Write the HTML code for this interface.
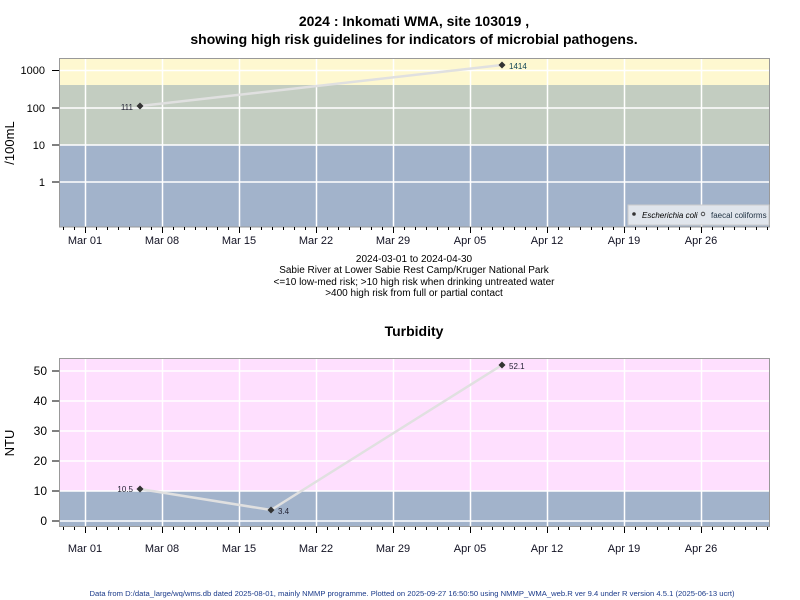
<!DOCTYPE html>
<html><head><meta charset="utf-8"><style>body{margin:0;background:#fff}svg{display:block}text{font-family:"Liberation Sans",Arial,sans-serif}</style></head>
<body>
<svg width="800" height="600" viewBox="0 0 800 600" xmlns="http://www.w3.org/2000/svg">
<defs><path id="dm" d="M0,-3.5 L3.5,0 L0,3.5 L-3.5,0 Z" fill="#333"/></defs>
<rect width="800" height="600" fill="#fff"/>
<text x="414" y="26" font-size="14" font-weight="bold" text-anchor="middle">2024 : Inkomati WMA, site 103019 ,</text>
<text x="414" y="44" font-size="14" font-weight="bold" text-anchor="middle">showing high risk guidelines for indicators of microbial pathogens.</text>
<!-- top panel -->
<rect x="60" y="59" width="709" height="26" fill="#fef8d0"/>
<rect x="60" y="85" width="709" height="60" fill="#c3cdc1"/>
<rect x="60" y="145" width="709" height="82" fill="#a2b3cb"/>
<g stroke="#fff" stroke-width="1.5">
<line x1="60" x2="769" y1="70.5" y2="70.5"/><line x1="60" x2="769" y1="108" y2="108"/><line x1="60" x2="769" y1="145" y2="145"/><line x1="60" x2="769" y1="182" y2="182"/>
<line x1="85.5" x2="85.5" y1="59" y2="227"/><line x1="162.5" x2="162.5" y1="59" y2="227"/><line x1="239.5" x2="239.5" y1="59" y2="227"/><line x1="316.5" x2="316.5" y1="59" y2="227"/><line x1="393.5" x2="393.5" y1="59" y2="227"/><line x1="470.5" x2="470.5" y1="59" y2="227"/><line x1="547.5" x2="547.5" y1="59" y2="227"/><line x1="624.5" x2="624.5" y1="59" y2="227"/><line x1="701.5" x2="701.5" y1="59" y2="227"/>
</g>
<rect x="59.5" y="58.5" width="710" height="168.5" fill="none" stroke="#999"/>
<g stroke="#000"><line x1="52" x2="59" y1="70.5" y2="70.5"/><line x1="52" x2="59" y1="108" y2="108"/><line x1="52" x2="59" y1="145" y2="145"/><line x1="52" x2="59" y1="182" y2="182"/></g>
<g font-size="11" text-anchor="end"><text x="45" y="74">1000</text><text x="45" y="112">100</text><text x="45" y="149">10</text><text x="45" y="186">1</text></g>
<text transform="translate(14,143) rotate(-90)" font-size="13" text-anchor="middle">/100mL</text>
<polyline points="140,106 502,65" fill="none" stroke="#e0e0e0" stroke-width="2.5"/>
<use href="#dm" x="140" y="106"/><use href="#dm" x="502" y="65"/>
<text x="133" y="110" font-size="8" text-anchor="end" fill="#223">111</text>
<text x="509" y="69" font-size="8" fill="#145">1414</text>
<rect x="628" y="205" width="141" height="20" fill="#e0e5ec" stroke="#ccc"/>
<circle cx="634" cy="214" r="1.8" fill="#333"/><text x="642" y="218" font-size="8" font-style="italic">Escherichia coli</text>
<circle cx="703" cy="214" r="1.8" fill="none" stroke="#333" stroke-width="0.8"/><text x="711" y="218" font-size="8" fill="#234">faecal coliforms</text>
<line x1="63" x2="768" y1="228.5" y2="228.5" stroke="#000" stroke-width="3" stroke-dasharray="1 10"/>
<line x1="85" x2="768" y1="230" y2="230" stroke="#000" stroke-width="6" stroke-dasharray="1 76"/>
<g font-size="11" text-anchor="middle" fill="#112"><text x="85" y="244">Mar 01</text><text x="162" y="244">Mar 08</text><text x="239" y="244">Mar 15</text><text x="316" y="244">Mar 22</text><text x="393" y="244">Mar 29</text><text x="470" y="244">Apr 05</text><text x="547" y="244">Apr 12</text><text x="624" y="244">Apr 19</text><text x="701" y="244">Apr 26</text></g>
<g font-size="10" text-anchor="middle"><text x="414" y="262">2024-03-01 to 2024-04-30</text><text x="414" y="273">Sabie River at Lower Sabie Rest Camp/Kruger National Park</text><text x="414" y="285">&lt;=10 low-med risk; &gt;10 high risk when drinking untreated water</text><text x="414" y="296">&gt;400 high risk from full or partial contact</text></g>
<text x="414" y="336" font-size="14" font-weight="bold" text-anchor="middle">Turbidity</text>
<!-- bottom panel -->
<rect x="60" y="359" width="709" height="132" fill="#fedffe"/>
<rect x="60" y="491" width="709" height="35" fill="#a2b3cb"/>
<g stroke="#fff" stroke-width="1.5">
<line x1="60" x2="769" y1="371" y2="371"/><line x1="60" x2="769" y1="401" y2="401"/><line x1="60" x2="769" y1="431" y2="431"/><line x1="60" x2="769" y1="461" y2="461"/><line x1="60" x2="769" y1="491" y2="491"/><line x1="60" x2="769" y1="521" y2="521"/>
<line x1="85.5" x2="85.5" y1="359" y2="526"/><line x1="162.5" x2="162.5" y1="359" y2="526"/><line x1="239.5" x2="239.5" y1="359" y2="526"/><line x1="316.5" x2="316.5" y1="359" y2="526"/><line x1="393.5" x2="393.5" y1="359" y2="526"/><line x1="470.5" x2="470.5" y1="359" y2="526"/><line x1="547.5" x2="547.5" y1="359" y2="526"/><line x1="624.5" x2="624.5" y1="359" y2="526"/><line x1="701.5" x2="701.5" y1="359" y2="526"/>
</g>
<rect x="59.5" y="358.5" width="710" height="168" fill="none" stroke="#999"/>
<g stroke="#000"><line x1="52" x2="59" y1="371" y2="371"/><line x1="52" x2="59" y1="401" y2="401"/><line x1="52" x2="59" y1="431" y2="431"/><line x1="52" x2="59" y1="461" y2="461"/><line x1="52" x2="59" y1="491" y2="491"/><line x1="52" x2="59" y1="521" y2="521"/></g>
<g font-size="12" text-anchor="end"><text x="47" y="375">50</text><text x="47" y="405">40</text><text x="47" y="435">30</text><text x="47" y="465">20</text><text x="47" y="495">10</text><text x="47" y="525">0</text></g>
<text transform="translate(14,443) rotate(-90)" font-size="13" text-anchor="middle">NTU</text>
<polyline points="140,489 271,510 502,365" fill="none" stroke="#e0e0e0" stroke-width="2.5"/>
<use href="#dm" x="140" y="489"/><use href="#dm" x="271" y="510"/><use href="#dm" x="502" y="365"/>
<text x="133" y="492" font-size="8" text-anchor="end" fill="#223">10.5</text>
<text x="278" y="514" font-size="8" fill="#223">3.4</text>
<text x="509" y="369" font-size="8" fill="#223">52.1</text>
<line x1="63" x2="768" y1="528.5" y2="528.5" stroke="#000" stroke-width="3" stroke-dasharray="1 10"/>
<line x1="85" x2="768" y1="530" y2="530" stroke="#000" stroke-width="6" stroke-dasharray="1 76"/>
<g font-size="11" text-anchor="middle" fill="#112"><text x="85" y="552">Mar 01</text><text x="162" y="552">Mar 08</text><text x="239" y="552">Mar 15</text><text x="316" y="552">Mar 22</text><text x="393" y="552">Mar 29</text><text x="470" y="552">Apr 05</text><text x="547" y="552">Apr 12</text><text x="624" y="552">Apr 19</text><text x="701" y="552">Apr 26</text></g>
<text x="412" y="596" font-size="7.6" text-anchor="middle" fill="#1a3a8a" textLength="645" lengthAdjust="spacingAndGlyphs">Data from D:/data_large/wq/wms.db dated 2025-08-01, mainly NMMP programme. Plotted on 2025-09-27 16:50:50 using NMMP_WMA_web.R ver 9.4 under R version 4.5.1 (2025-06-13 ucrt)</text>
</svg>
</body></html>
